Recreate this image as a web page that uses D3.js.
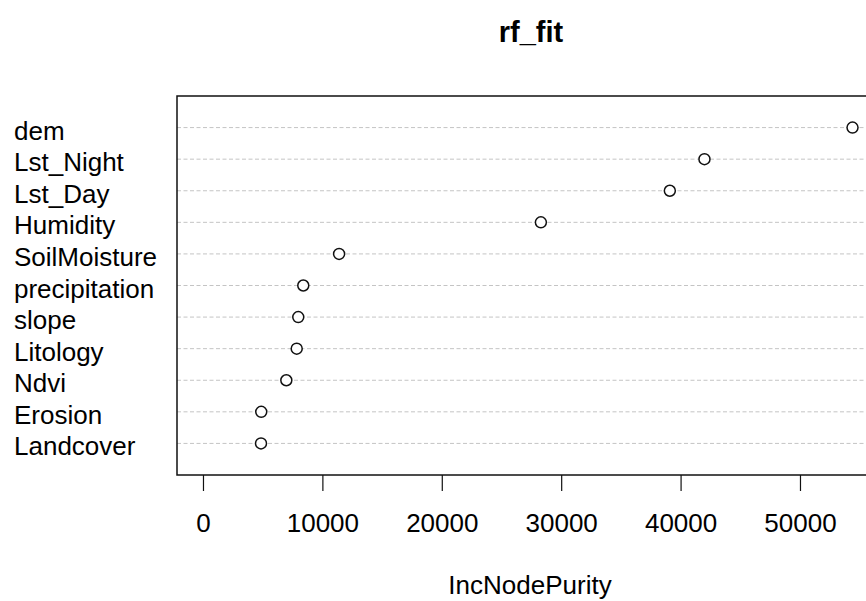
<!DOCTYPE html>
<html>
<head>
<meta charset="utf-8">
<script src="https://cdn.jsdelivr.net/npm/d3@7"></script>
<style>
  body { margin: 0; background: #fff; overflow: hidden; }
  text { font-family: "Liberation Sans", Arial, sans-serif; fill: #000; }
</style>
</head>
<body>
<div id="chart"></div>
<script>
// variable importance, top to bottom as drawn
const variables = ["dem", "Lst_Night", "Lst_Day", "Humidity", "SoilMoisture", "precipitation",
                   "slope", "Litology", "Ndvi", "Erosion", "Landcover"];
const incNodePurity = [54400, 42000, 39100, 28300, 11400, 8400, 7980, 7850, 6980, 4880, 4860];
const xTicks = [0, 10000, 20000, 30000, 40000, 50000];

const width = 866;
const height = 601;

const svg = d3.select("#chart")
    .append("svg")
    .attr("width", width)
    .attr("height", height);

// R style xlim = c(0, max) with 4% padding
const xMax = d3.max(incNodePurity);
const pad = xMax * 0.04;
const x = d3.scaleLinear()
    .domain([-pad, xMax + pad])
    .range([177, 878.5]);

const n = variables.length;
const y = d3.scaleLinear()
    .domain([0, n + 1])
    .range([475, 96]);

const rows = variables.map((v, i) => ({ name: v, value: incNodePurity[i], pos: n - i }));

// dotted guide lines
svg.selectAll("line.grid")
    .data(rows)
    .enter()
    .append("line")
    .attr("class", "grid")
    .attr("x1", x.range()[0])
    .attr("x2", x.range()[1])
    .attr("y1", d => y(d.pos))
    .attr("y2", d => y(d.pos))
    .attr("stroke", "#c4c4c4")
    .attr("stroke-width", 1)
    .attr("stroke-dasharray", "4,2.5");

// frame
svg.append("rect")
    .attr("x", x.range()[0])
    .attr("y", y.range()[1])
    .attr("width", x.range()[1] - x.range()[0])
    .attr("height", y.range()[0] - y.range()[1])
    .attr("fill", "none")
    .attr("stroke", "#111")
    .attr("stroke-width", 1.5);

// points
svg.selectAll("circle.pt")
    .data(rows)
    .enter()
    .append("circle")
    .attr("class", "pt")
    .attr("cx", d => x(d.value))
    .attr("cy", d => y(d.pos))
    .attr("r", 5.5)
    .attr("fill", "#fff")
    .attr("stroke", "#111")
    .attr("stroke-width", 1.5);

// row labels
svg.selectAll("text.lab")
    .data(rows)
    .enter()
    .append("text")
    .attr("class", "lab")
    .attr("x", 14)
    .attr("y", d => y(d.pos) + 12)
    .attr("font-size", 26)
    .text(d => d.name);

// x axis
const xAxis = d3.axisBottom(x)
    .tickValues(xTicks)
    .tickFormat(d3.format("d"))
    .tickSize(16)
    .tickPadding(24);

const gx = svg.append("g")
    .attr("transform", `translate(0,${y.range()[0]})`)
    .call(xAxis);
gx.select(".domain").remove();
gx.selectAll(".tick line").attr("stroke", "#111").attr("stroke-width", 1.2);
gx.selectAll(".tick text")
    .attr("font-size", 26)
    .attr("font-family", "'Liberation Sans', Arial, sans-serif")
    .attr("fill", "#000")
    .attr("dy", null)
    .attr("y", 57);

// title and axis title
svg.append("text")
    .attr("x", 531)
    .attr("y", 42)
    .attr("text-anchor", "middle")
    .attr("font-size", 29)
    .attr("font-weight", "bold")
    .text("rf_fit");

svg.append("text")
    .attr("x", 530)
    .attr("y", 594)
    .attr("text-anchor", "middle")
    .attr("font-size", 26)
    .text("IncNodePurity");
</script>
</body>
</html>
